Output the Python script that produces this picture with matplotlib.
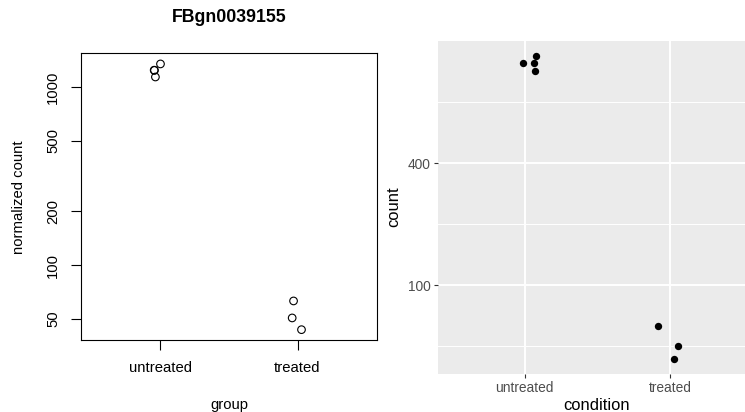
import numpy as np
import matplotlib
matplotlib.use('Agg')
import matplotlib.pyplot as plt
from matplotlib.ticker import FixedLocator, NullFormatter, FixedFormatter, NullLocator

plt.rcParams['font.family'] = ['Liberation Sans', 'DejaVu Sans']

gene = "FBgn0039155"
groups = ["untreated", "treated"]
untreated_counts = [1245, 1242, 1350, 1140]
treated_counts = [62.8, 50.4, 43.3]
# horizontal jitter offsets (category units)
left_jitter_untreated = [-0.046, -0.044, 0.0, -0.037]
left_jitter_treated = [-0.029, -0.039, 0.029]
right_jitter_untreated = [-0.014, 0.06, 0.079, 0.072]
right_jitter_treated = [-0.087, 0.055, 0.028]
left_yticks = [50, 100, 200, 500, 1000]
right_major = [100, 400]
right_minor = [50, 200, 800]

W, H = 745, 412
fig = plt.figure(figsize=(W / 100, H / 100), dpi=100)

all_vals = np.array(untreated_counts + treated_counts, dtype=float)
lo, hi = np.log10(all_vals.min()), np.log10(all_vals.max())

# ---------------- left: base R style ----------------
axL = fig.add_axes([81 / W, 1 - 340.3 / H, 296 / W, 287 / H])
xu = 1 + np.array(left_jitter_untreated)
xt = 2 + np.array(left_jitter_treated)
axL.scatter(xu, untreated_counts, s=30, facecolors='none', edgecolors='black', linewidths=0.8, zorder=3)
axL.scatter(xt, treated_counts, s=30, facecolors='none', edgecolors='black', linewidths=0.8, zorder=3)
axL.set_yscale('log')
r = hi - lo
axL.set_ylim(10 ** (lo - 0.04 * r), 10 ** (hi + 0.04 * r))
axL.set_xlim(0.42, 2.58)
axL.yaxis.set_major_locator(FixedLocator(left_yticks))
axL.yaxis.set_major_formatter(FixedFormatter([str(v) for v in left_yticks]))
axL.yaxis.set_minor_locator(NullLocator())
axL.set_xticks([1, 2])
axL.set_xticklabels(groups)
axL.tick_params(axis='both', direction='out', length=7, width=0.8, labelsize=10.7, pad=8, color='black')
for lab in axL.get_yticklabels():
    lab.set_rotation(90)
    lab.set_va('center')
for sp in axL.spines.values():
    sp.set_linewidth(0.8)
    sp.set_color('black')
fig.text(229 / W, 1 - 18 / H, gene, ha='center', va='center', fontsize=12.8, fontweight='bold')
fig.text(229 / W, 1 - 405 / H, "group", ha='center', va='center', fontsize=10.7)
fig.text(19 / W, 1 - 197 / H, "normalized count", ha='center', va='center', fontsize=10.7, rotation=90)

# ---------------- right: ggplot style (panel runs past the right edge) ----------------
axR = fig.add_axes([437.5 / W, 1 - 374 / H, 320 / W, 333 / H])
axR.set_facecolor('#EBEBEB')
axR.set_yscale('log')
axR.set_ylim(10 ** (lo - 0.05 * r), 10 ** (hi + 0.05 * r))
axR.set_xlim(0.4, 2.6)
axR.yaxis.set_major_locator(FixedLocator(right_major))
axR.yaxis.set_major_formatter(FixedFormatter([str(v) for v in right_major]))
axR.yaxis.set_minor_locator(FixedLocator(right_minor))
axR.yaxis.set_minor_formatter(NullFormatter())
axR.set_xticks([1, 2])
axR.set_xticklabels(groups)
axR.grid(which='major', color='white', linewidth=1.4)
axR.grid(which='minor', axis='y', color='white', linewidth=0.7)
axR.set_axisbelow(True)
for sp in axR.spines.values():
    sp.set_visible(False)
axR.tick_params(axis='both', which='major', direction='out', length=3, width=0.8,
                color='#333333', labelcolor='#4D4D4D', labelsize=9.9, pad=2)
axR.tick_params(axis='y', which='minor', length=0)
axR.scatter(1 + np.array(right_jitter_untreated), untreated_counts, s=28, color='black', zorder=3, linewidths=0)
axR.scatter(2 + np.array(right_jitter_treated), treated_counts, s=28, color='black', zorder=3, linewidths=0)
fig.text(597 / W, 1 - 405 / H, "condition", ha='center', va='center', fontsize=11.9)
fig.text(394 / W, 1 - 207 / H, "count", ha='center', va='center', fontsize=11.9, rotation=90)

fig.savefig('out.png', dpi=100)
